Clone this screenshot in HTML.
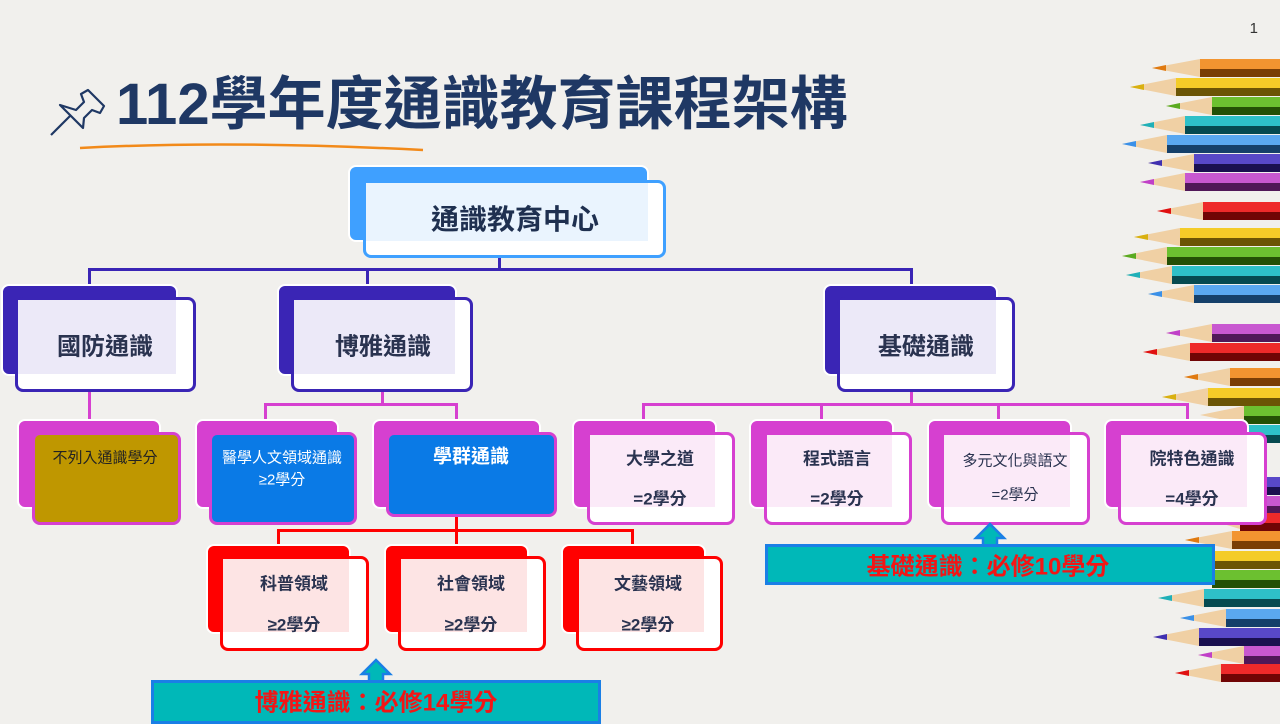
<!DOCTYPE html>
<html><head><meta charset="utf-8"><style>
*{margin:0;padding:0;box-sizing:border-box}
body{width:1280px;height:720px;overflow:hidden;background:#f1f0ed;position:relative;font-family:"Liberation Sans","Noto Sans CJK TC",sans-serif;}
.a{position:absolute}
.bk{position:absolute;border-radius:8px;border:2px solid #fff}
.fr{position:absolute;border-radius:8px;background:#fff;border:3px solid}
.tn{position:absolute}
.t{position:absolute;transform:translate(-50%,-50%);white-space:nowrap;color:#2a3350;font-weight:bold}
.ln{position:absolute}
</style></head><body>
<div class="a" style="right:22px;top:20px;font-size:15px;color:#333">1</div>
<svg class="a" style="left:48px;top:80px" width="60" height="60" viewBox="0 0 60 60">
<g fill="none" stroke="#1f3864" stroke-width="2.2" stroke-linejoin="round">
<path d="M3 55 L22 36"/><path d="M12 25 L35 48 L36 38 L44 30 L52 33 L56 26 L40 10 L33 14 L36 22 L28 30 Z"/>
</g></svg>
<div class="a" style="left:116px;top:72px;font-size:58px;font-weight:bold;color:#1f3864;line-height:66px;white-space:nowrap">112學年度通識教育課程架構</div>
<svg class="a" style="left:78px;top:140px" width="350" height="14"><path d="M2 8 Q150 0 345 10" stroke="#f28a1a" stroke-width="2.5" fill="none"/></svg>

<!-- pencils -->
<svg class="a" style="left:0;top:0" width="1280" height="720">
<g>
<polygon points="1152,68 1200,59 1200,77" fill="#f0d0a4"/><polygon points="1152,68 1166,65 1166,71" fill="#e07a10"/><rect x="1200" y="59" width="80" height="18" fill="#f29430"/><rect x="1200" y="69" width="80" height="8" fill="#7a3e05"/>
<polygon points="1130,87 1176,78 1176,96" fill="#f0d0a4"/><polygon points="1130,87 1144,84 1144,90" fill="#d9b010"/><rect x="1176" y="78" width="104" height="18" fill="#f4cc28"/><rect x="1176" y="88" width="104" height="8" fill="#6b5505"/>
<polygon points="1166,106 1212,97 1212,115" fill="#f0d0a4"/><polygon points="1166,106 1180,103 1180,109" fill="#5aaa20"/><rect x="1212" y="97" width="68" height="18" fill="#6cc030"/><rect x="1212" y="107" width="68" height="8" fill="#245005"/>
<polygon points="1140,125 1185,116 1185,134" fill="#f0d0a4"/><polygon points="1140,125 1154,122 1154,128" fill="#20b0b8"/><rect x="1185" y="116" width="95" height="18" fill="#2ec0c8"/><rect x="1185" y="126" width="95" height="8" fill="#064a50"/>
<polygon points="1122,144 1167,135 1167,153" fill="#f0d0a4"/><polygon points="1122,144 1136,141 1136,147" fill="#3a90e8"/><rect x="1167" y="135" width="113" height="18" fill="#5aa8f0"/><rect x="1167" y="145" width="113" height="8" fill="#15406a"/>
<polygon points="1148,163 1194,154 1194,172" fill="#f0d0a4"/><polygon points="1148,163 1162,160 1162,166" fill="#4030b0"/><rect x="1194" y="154" width="86" height="18" fill="#5848c8"/><rect x="1194" y="164" width="86" height="8" fill="#1a1050"/>
<polygon points="1140,182 1185,173 1185,191" fill="#f0d0a4"/><polygon points="1140,182 1154,179 1154,185" fill="#c040c8"/><rect x="1185" y="173" width="95" height="18" fill="#c858d0"/><rect x="1185" y="183" width="95" height="8" fill="#501858"/>
<polygon points="1157,211 1203,202 1203,220" fill="#f0d0a4"/><polygon points="1157,211 1171,208 1171,214" fill="#e01010"/><rect x="1203" y="202" width="77" height="18" fill="#ee2a2a"/><rect x="1203" y="212" width="77" height="8" fill="#700505"/>
<polygon points="1134,237 1180,228 1180,246" fill="#f0d0a4"/><polygon points="1134,237 1148,234 1148,240" fill="#d9b010"/><rect x="1180" y="228" width="100" height="18" fill="#f4cc28"/><rect x="1180" y="238" width="100" height="8" fill="#6b5505"/>
<polygon points="1122,256 1167,247 1167,265" fill="#f0d0a4"/><polygon points="1122,256 1136,253 1136,259" fill="#5aaa20"/><rect x="1167" y="247" width="113" height="18" fill="#6cc030"/><rect x="1167" y="257" width="113" height="8" fill="#245005"/>
<polygon points="1126,275 1172,266 1172,284" fill="#f0d0a4"/><polygon points="1126,275 1140,272 1140,278" fill="#20b0b8"/><rect x="1172" y="266" width="108" height="18" fill="#2ec0c8"/><rect x="1172" y="276" width="108" height="8" fill="#064a50"/>
<polygon points="1148,294 1194,285 1194,303" fill="#f0d0a4"/><polygon points="1148,294 1162,291 1162,297" fill="#3a90e8"/><rect x="1194" y="285" width="86" height="18" fill="#5aa8f0"/><rect x="1194" y="295" width="86" height="8" fill="#15406a"/>
<polygon points="1166,333 1212,324 1212,342" fill="#f0d0a4"/><polygon points="1166,333 1180,330 1180,336" fill="#c040c8"/><rect x="1212" y="324" width="68" height="18" fill="#c858d0"/><rect x="1212" y="334" width="68" height="8" fill="#501858"/>
<polygon points="1143,352 1190,343 1190,361" fill="#f0d0a4"/><polygon points="1143,352 1157,349 1157,355" fill="#e01010"/><rect x="1190" y="343" width="90" height="18" fill="#ee2a2a"/><rect x="1190" y="353" width="90" height="8" fill="#700505"/>
<polygon points="1184,377 1230,368 1230,386" fill="#f0d0a4"/><polygon points="1184,377 1198,374 1198,380" fill="#e07a10"/><rect x="1230" y="368" width="50" height="18" fill="#f29430"/><rect x="1230" y="378" width="50" height="8" fill="#7a3e05"/>
<polygon points="1162,397 1208,388 1208,406" fill="#f0d0a4"/><polygon points="1162,397 1176,394 1176,400" fill="#d9b010"/><rect x="1208" y="388" width="72" height="18" fill="#f4cc28"/><rect x="1208" y="398" width="72" height="8" fill="#6b5505"/>
<polygon points="1200,415 1244,406 1244,424" fill="#f0d0a4"/><rect x="1244" y="406" width="36" height="18" fill="#6cc030"/><rect x="1244" y="416" width="36" height="8" fill="#245005"/>
<rect x="1230" y="425" width="50" height="18" fill="#2ec0c8"/><rect x="1230" y="435" width="50" height="8" fill="#064a50"/>
<rect x="1240" y="477" width="40" height="18" fill="#5848c8"/><rect x="1240" y="487" width="40" height="8" fill="#1a1050"/>
<rect x="1240" y="496" width="40" height="18" fill="#c858d0"/><rect x="1240" y="506" width="40" height="8" fill="#501858"/>
<polygon points="1210,520 1240,513 1240,529" fill="#f0d0a4"/><rect x="1240" y="513" width="40" height="18" fill="#ee2a2a"/><rect x="1240" y="523" width="40" height="8" fill="#700505"/>
<polygon points="1185,540 1232,531 1232,549" fill="#f0d0a4"/><polygon points="1185,540 1199,537 1199,543" fill="#e07a10"/><rect x="1232" y="531" width="48" height="18" fill="#f29430"/><rect x="1232" y="541" width="48" height="8" fill="#7a3e05"/>
<rect x="1212" y="551" width="68" height="18" fill="#f4cc28"/><rect x="1212" y="561" width="68" height="8" fill="#6b5505"/>
<rect x="1212" y="570" width="68" height="18" fill="#6cc030"/><rect x="1212" y="580" width="68" height="8" fill="#245005"/>
<polygon points="1158,598 1204,589 1204,607" fill="#f0d0a4"/><polygon points="1158,598 1172,595 1172,601" fill="#20b0b8"/><rect x="1204" y="589" width="76" height="18" fill="#2ec0c8"/><rect x="1204" y="599" width="76" height="8" fill="#064a50"/>
<polygon points="1180,618 1226,609 1226,627" fill="#f0d0a4"/><polygon points="1180,618 1194,615 1194,621" fill="#3a90e8"/><rect x="1226" y="609" width="54" height="18" fill="#5aa8f0"/><rect x="1226" y="619" width="54" height="8" fill="#15406a"/>
<polygon points="1153,637 1199,628 1199,646" fill="#f0d0a4"/><polygon points="1153,637 1167,634 1167,640" fill="#4030b0"/><rect x="1199" y="628" width="81" height="18" fill="#5848c8"/><rect x="1199" y="638" width="81" height="8" fill="#1a1050"/>
<polygon points="1198,655 1244,646 1244,664" fill="#f0d0a4"/><polygon points="1198,655 1212,652 1212,658" fill="#c040c8"/><rect x="1244" y="646" width="36" height="18" fill="#c858d0"/><rect x="1244" y="656" width="36" height="8" fill="#501858"/>
<polygon points="1175,673 1221,664 1221,682" fill="#f0d0a4"/><polygon points="1175,673 1189,670 1189,676" fill="#e01010"/><rect x="1221" y="664" width="59" height="18" fill="#ee2a2a"/><rect x="1221" y="674" width="59" height="8" fill="#700505"/>
</g></svg>

<!-- connectors -->
<div class="ln" style="left:498px;top:255px;width:3px;height:16px;background:#3a25b5"></div>
<div class="ln" style="left:88px;top:268px;width:825px;height:3px;background:#3a25b5"></div>
<div class="ln" style="left:88px;top:268px;width:3px;height:18px;background:#3a25b5"></div>
<div class="ln" style="left:366px;top:268px;width:3px;height:18px;background:#3a25b5"></div>
<div class="ln" style="left:910px;top:268px;width:3px;height:18px;background:#3a25b5"></div>

<div class="ln" style="left:88px;top:390px;width:3px;height:31px;background:#d640d0"></div>
<div class="ln" style="left:381px;top:390px;width:3px;height:15px;background:#d640d0"></div>
<div class="ln" style="left:264px;top:403px;width:194px;height:3px;background:#d640d0"></div>
<div class="ln" style="left:264px;top:403px;width:3px;height:18px;background:#d640d0"></div>
<div class="ln" style="left:455px;top:403px;width:3px;height:18px;background:#d640d0"></div>
<div class="ln" style="left:910px;top:390px;width:3px;height:15px;background:#d640d0"></div>
<div class="ln" style="left:642px;top:403px;width:547px;height:3px;background:#d640d0"></div>
<div class="ln" style="left:642px;top:403px;width:3px;height:18px;background:#d640d0"></div>
<div class="ln" style="left:820px;top:403px;width:3px;height:18px;background:#d640d0"></div>
<div class="ln" style="left:997px;top:403px;width:3px;height:18px;background:#d640d0"></div>
<div class="ln" style="left:1186px;top:403px;width:3px;height:18px;background:#d640d0"></div>

<div class="ln" style="left:455px;top:514px;width:3px;height:17px;background:#f00"></div>
<div class="ln" style="left:277px;top:529px;width:357px;height:3px;background:#f00"></div>
<div class="ln" style="left:277px;top:529px;width:3px;height:17px;background:#f00"></div>
<div class="ln" style="left:455px;top:529px;width:3px;height:17px;background:#f00"></div>
<div class="ln" style="left:631px;top:529px;width:3px;height:17px;background:#f00"></div>

<!-- center -->
<div class="bk" style="left:348px;top:165px;width:301px;height:77px;background:#3fa0ff"></div>
<div class="fr" style="left:363px;top:180px;width:303px;height:78px;border-color:#3fa0ff"></div>
<div class="tn" style="left:366px;top:183px;width:282px;height:58px;background:#eaf4fe"></div>
<div class="t" style="left:515px;top:218px;font-size:28px;color:#1f3050">通識教育中心</div>

<div class="bk" style="left:1px;top:284px;width:177px;height:92px;background:#3a25b5"></div>
<div class="fr" style="left:15px;top:297px;width:181px;height:95px;border-color:#3a25b5"></div>
<div class="tn" style="left:18px;top:300px;width:158px;height:74px;background:#ece9f8"></div>
<div class="t" style="left:105px;top:344px;font-size:24px">國防通識</div>

<div class="bk" style="left:277px;top:284px;width:180px;height:92px;background:#3a25b5"></div>
<div class="fr" style="left:291px;top:297px;width:182px;height:95px;border-color:#3a25b5"></div>
<div class="tn" style="left:294px;top:300px;width:161px;height:74px;background:#ece9f8"></div>
<div class="t" style="left:383px;top:344px;font-size:24px">博雅通識</div>

<div class="bk" style="left:823px;top:284px;width:175px;height:92px;background:#3a25b5"></div>
<div class="fr" style="left:837px;top:297px;width:178px;height:95px;border-color:#3a25b5"></div>
<div class="tn" style="left:840px;top:300px;width:156px;height:74px;background:#ece9f8"></div>
<div class="t" style="left:926px;top:344px;font-size:24px">基礎通識</div>

<div class="bk" style="left:17px;top:419px;width:144px;height:90px;background:#d640d0"></div>
<div class="fr" style="left:32px;top:432px;width:149px;height:93px;border-color:#d640d0;background:#bf9700"></div>
<div class="t" style="left:105px;top:457px;font-size:15px;font-weight:normal;color:#222">不列入通識學分</div>

<div class="bk" style="left:195px;top:419px;width:144px;height:90px;background:#d640d0"></div>
<div class="fr" style="left:209px;top:432px;width:148px;height:93px;border-color:#d640d0;background:#0a7ae6"></div>
<div class="t" style="left:282px;top:457px;font-size:15px;font-weight:normal;color:#fff">醫學人文領域通識</div>
<div class="t" style="left:282px;top:479px;font-size:15px;font-weight:normal;color:#fff">≥2學分</div>

<div class="bk" style="left:372px;top:419px;width:169px;height:90px;background:#d640d0"></div>
<div class="fr" style="left:386px;top:432px;width:171px;height:85px;border-color:#d640d0;background:#0a7ae6"></div>
<div class="t" style="left:471px;top:455px;font-size:19px;color:#fff">學群通識</div>

<div class="bk" style="left:572px;top:419px;width:145px;height:90px;background:#d640d0"></div>
<div class="fr" style="left:587px;top:432px;width:148px;height:93px;border-color:#d640d0"></div>
<div class="tn" style="left:590px;top:435px;width:125px;height:72px;background:#fbeaf8"></div>
<div class="t" style="left:660px;top:457px;font-size:17px">大學之道</div>
<div class="t" style="left:660px;top:497px;font-size:17px">=2學分</div>

<div class="bk" style="left:749px;top:419px;width:145px;height:90px;background:#d640d0"></div>
<div class="fr" style="left:764px;top:432px;width:148px;height:93px;border-color:#d640d0"></div>
<div class="tn" style="left:767px;top:435px;width:125px;height:72px;background:#fbeaf8"></div>
<div class="t" style="left:837px;top:457px;font-size:17px">程式語言</div>
<div class="t" style="left:837px;top:497px;font-size:17px">=2學分</div>

<div class="bk" style="left:927px;top:419px;width:145px;height:90px;background:#d640d0"></div>
<div class="fr" style="left:941px;top:432px;width:149px;height:93px;border-color:#d640d0"></div>
<div class="tn" style="left:944px;top:435px;width:126px;height:72px;background:#fbeaf8"></div>
<div class="t" style="left:1015px;top:460px;font-size:15px;font-weight:normal">多元文化與語文</div>
<div class="t" style="left:1015px;top:494px;font-size:15px;font-weight:normal">=2學分</div>

<div class="bk" style="left:1104px;top:419px;width:145px;height:90px;background:#d640d0"></div>
<div class="fr" style="left:1118px;top:432px;width:149px;height:93px;border-color:#d640d0"></div>
<div class="tn" style="left:1121px;top:435px;width:126px;height:72px;background:#fbeaf8"></div>
<div class="t" style="left:1192px;top:457px;font-size:17px">院特色通識</div>
<div class="t" style="left:1192px;top:497px;font-size:17px">=4學分</div>

<div class="bk" style="left:206px;top:544px;width:145px;height:90px;background:#f00"></div>
<div class="fr" style="left:220px;top:556px;width:149px;height:95px;border-color:#f00"></div>
<div class="tn" style="left:223px;top:559px;width:126px;height:73px;background:#fde4e4"></div>
<div class="t" style="left:294px;top:582px;font-size:17px">科普領域</div>
<div class="t" style="left:294px;top:623px;font-size:17px">≥2學分</div>

<div class="bk" style="left:384px;top:544px;width:145px;height:90px;background:#f00"></div>
<div class="fr" style="left:398px;top:556px;width:148px;height:95px;border-color:#f00"></div>
<div class="tn" style="left:401px;top:559px;width:126px;height:73px;background:#fde4e4"></div>
<div class="t" style="left:471px;top:582px;font-size:17px">社會領域</div>
<div class="t" style="left:471px;top:623px;font-size:17px">≥2學分</div>

<div class="bk" style="left:561px;top:544px;width:145px;height:90px;background:#f00"></div>
<div class="fr" style="left:576px;top:556px;width:147px;height:95px;border-color:#f00"></div>
<div class="tn" style="left:579px;top:559px;width:125px;height:73px;background:#fde4e4"></div>
<div class="t" style="left:648px;top:582px;font-size:17px">文藝領域</div>
<div class="t" style="left:648px;top:623px;font-size:17px">≥2學分</div>

<svg class="a" style="left:970px;top:522px" width="40" height="26"><path d="M20 2 L34 16 L27 16 L27 25 L13 25 L13 16 L6 16 Z" fill="#00b8b8" stroke="#1a7fe6" stroke-width="2.5"/></svg>
<div class="a" style="left:765px;top:544px;width:450px;height:41px;background:#00b8b8;border:3px solid #1a7fe6"></div>
<div class="t" style="left:988px;top:564px;font-size:24px;color:#f21616">基礎通識：必修10學分</div>

<svg class="a" style="left:356px;top:658px" width="40" height="26"><path d="M20 2 L34 16 L27 16 L27 25 L13 25 L13 16 L6 16 Z" fill="#00b8b8" stroke="#1a7fe6" stroke-width="2.5"/></svg>
<div class="a" style="left:151px;top:680px;width:450px;height:44px;background:#00b8b8;border:3px solid #1a7fe6"></div>
<div class="t" style="left:376px;top:700px;font-size:24px;color:#f21616">博雅通識：必修14學分</div>
</body></html>
